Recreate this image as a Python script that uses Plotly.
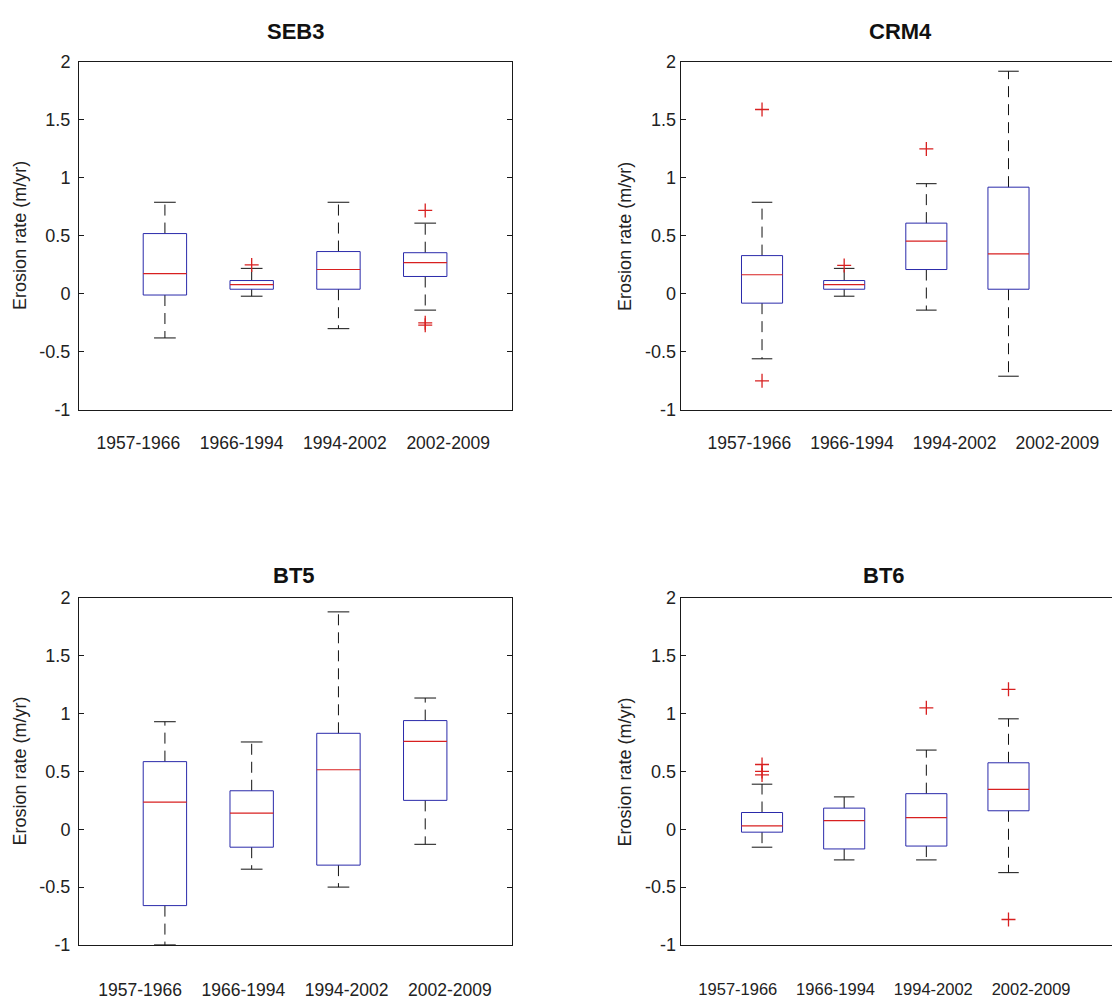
import plotly.graph_objects as go

# Survey periods (one box per period)
periods = ["1957-1966", "1966-1994", "1994-2002", "2002-2009"]
positions = [1, 2, 3, 4]
y_ticks = [-1, -0.5, 0, 0.5, 1, 1.5, 2]

# Box statistics per transect (m/yr)
seb3_lower = [-0.38, -0.02, -0.30, -0.14]
seb3_q1 = [-0.01, 0.04, 0.04, 0.15]
seb3_median = [0.175, 0.08, 0.21, 0.27]
seb3_q3 = [0.52, 0.115, 0.365, 0.355]
seb3_upper = [0.79, 0.22, 0.79, 0.61]
seb3_outliers = [[], [0.25], [], [0.72, -0.25, -0.27]]

crm4_lower = [-0.56, -0.02, -0.14, -0.71]
crm4_q1 = [-0.08, 0.04, 0.21, 0.04]
crm4_median = [0.165, 0.08, 0.455, 0.345]
crm4_q3 = [0.33, 0.115, 0.61, 0.92]
crm4_upper = [0.79, 0.22, 0.95, 1.92]
crm4_outliers = [[1.59, -0.75], [0.245], [1.25], []]

bt5_lower = [-1.0, -0.345, -0.50, -0.13]
bt5_q1 = [-0.66, -0.155, -0.31, 0.25]
bt5_median = [0.235, 0.14, 0.515, 0.76]
bt5_q3 = [0.585, 0.333, 0.83, 0.94]
bt5_upper = [0.93, 0.755, 1.88, 1.135]
bt5_outliers = [[], [], [], []]

bt6_lower = [-0.155, -0.265, -0.265, -0.375]
bt6_q1 = [-0.025, -0.17, -0.145, 0.16]
bt6_median = [0.03, 0.075, 0.10, 0.345]
bt6_q3 = [0.145, 0.183, 0.308, 0.575]
bt6_upper = [0.39, 0.28, 0.685, 0.955]
bt6_outliers = [[0.56, 0.50, 0.47], [], [1.05], [1.21, -0.78]]

BOX_BLUE = "#2a2aaa"
MED_RED = "#d82020"
WHISK = "#111111"
FONT = "Liberation Sans, Arial, sans-serif"

W, H = 1112, 1000
BOX_HALF = 0.25
CAP_HALF = 0.125


def add_boxes(fig, xa, ya, lower, q1, med, q3, upper, outliers):
    bx, by, mx, my, wx, wy, cx, cy, ox, oy = [], [], [], [], [], [], [], [], [], []
    for p, lo, a, m, b, hi, outs in zip(positions, lower, q1, med, q3, upper, outliers):
        bx += [p - BOX_HALF, p + BOX_HALF, p + BOX_HALF, p - BOX_HALF, p - BOX_HALF, None]
        by += [a, a, b, b, a, None]
        mx += [p - BOX_HALF, p + BOX_HALF, None]
        my += [m, m, None]
        wx += [p, p, None, p, p, None]
        wy += [b, hi, None, a, lo, None]
        cx += [p - CAP_HALF, p + CAP_HALF, None, p - CAP_HALF, p + CAP_HALF, None]
        cy += [hi, hi, None, lo, lo, None]
        ox += [p] * len(outs)
        oy += list(outs)
    common = dict(xaxis=xa, yaxis=ya, showlegend=False, hoverinfo="skip")
    fig.add_trace(go.Scatter(x=wx, y=wy, mode="lines",
                             line=dict(color=WHISK, width=1, dash="11px,7px"), **common))
    fig.add_trace(go.Scatter(x=cx, y=cy, mode="lines",
                             line=dict(color=WHISK, width=1), **common))
    fig.add_trace(go.Scatter(x=bx, y=by, mode="lines",
                             line=dict(color=BOX_BLUE, width=1), **common))
    fig.add_trace(go.Scatter(x=mx, y=my, mode="lines",
                             line=dict(color=MED_RED, width=1.2), **common))
    if ox:
        fig.add_trace(go.Scatter(x=ox, y=oy, mode="markers",
                                 marker=dict(symbol="cross-thin", size=10, color=MED_RED,
                                             line=dict(color=MED_RED, width=1.3)),
                                 cliponaxis=False, **common))


fig = go.Figure()

panels = [
    ("SEB3", "x", "y", seb3_lower, seb3_q1, seb3_median, seb3_q3, seb3_upper, seb3_outliers),
    ("CRM4", "x2", "y2", crm4_lower, crm4_q1, crm4_median, crm4_q3, crm4_upper, crm4_outliers),
    ("BT5", "x3", "y3", bt5_lower, bt5_q1, bt5_median, bt5_q3, bt5_upper, bt5_outliers),
    ("BT6", "x4", "y4", bt6_lower, bt6_q1, bt6_median, bt6_q3, bt6_upper, bt6_outliers),
]
for _, xa, ya, lo, a, m, b, hi, outs in panels:
    add_boxes(fig, xa, ya, lo, a, m, b, hi, outs)

# Panel geometry in pixels: (left, right, top, bottom, x-range, label spread, label shift,
# title x, title y, y-label x, ytick standoff, xtick font size, xtick standoff)
geom = [
    (79, 512, 53, 408, [0.01, 5.0], 1.19, -0.02, 295.5, 22, 20, 4, 17.5, 17),
    (680.7, 1112, 53, 408, [0.01, 5.26], 1.25, 0.22, 900, 22, 625, 0, 17.5, 17),
    (79, 512, 600, 954, [0.01, 5.0], 1.19, 0.0, 294, 577, 20, 4, 17.5, 29),
    (680.7, 1112, 600, 954, [0.01, 5.26], 1.19, -0.01, 884, 577, 625, 0, 16.5, 29),
]

annotations = []
for i, ((title, *_), g) in enumerate(zip(panels, geom)):
    left, right, top, bottom, xr, spread, shift, tx, ty, lx, ystand, xfs, xstand = g
    sfx = "" if i == 0 else str(i + 1)
    right_col = i in (1, 3)
    centre = sum(positions) / len(positions)
    label_pos = [centre + spread * (p - centre) + shift for p in positions]
    fig.layout["xaxis" + sfx] = dict(
        domain=[left / W, right / W], anchor="y" + sfx, range=xr,
        tickmode="array", tickvals=label_pos, ticktext=periods, ticks="",
        showline=True, linecolor="#1a1a1a", linewidth=1, mirror=True,
        showgrid=False, zeroline=False, ticklabelstandoff=xstand,
        tickfont=dict(family=FONT, size=xfs, color="#222"),
    )
    fig.layout["yaxis" + sfx] = dict(
        domain=[1 - bottom / H, 1 - top / H], anchor="x" + sfx, range=[-1, 2],
        tickmode="array", tickvals=y_ticks, ticktext=[f"{v:g}" for v in y_ticks],
        ticks="inside", ticklen=5, tickcolor="#1a1a1a",
        showline=True, linecolor="#1a1a1a", linewidth=1,
        mirror=False if right_col else "ticks",
        showgrid=False, zeroline=False, ticklabelstandoff=ystand,
        tickfont=dict(family=FONT, size=18, color="#222"),
    )
    annotations.append(dict(text="<b>" + title + "</b>", x=tx / W, y=1 - ty / H,
                            xref="paper", yref="paper",
                            xanchor="center", yanchor="middle", showarrow=False,
                            font=dict(family=FONT, size=22, color="#111")))
    annotations.append(dict(text="Erosion rate (m/yr)", x=lx / W, y=1 - (top + bottom) / 2 / H,
                            xref="paper", yref="paper", xanchor="center", yanchor="middle",
                            textangle=-90, showarrow=False,
                            font=dict(family=FONT, size=18, color="#222")))

fig.update_layout(
    width=W, height=H, margin=dict(l=0, r=0, t=0, b=0),
    paper_bgcolor="white", plot_bgcolor="white",
    annotations=annotations,
)

fig.write_html("out.html")
